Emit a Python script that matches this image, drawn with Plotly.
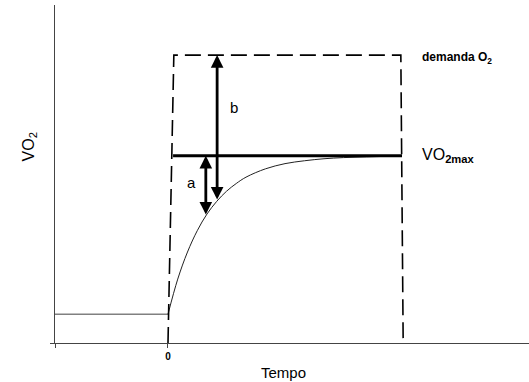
import plotly.graph_objects as go

# ---- data (time in tau units, VO2 in arbitrary units) ----
baseline_t = [-2.9, 0.0]
baseline_vo2 = [10, 10]

curve_t = [0.0, 0.25, 0.5, 0.75, 1.0, 1.25, 1.5, 1.75, 2.0, 2.5, 3.0, 3.5, 4.0, 4.5, 5.0, 5.5]
curve_vo2 = [10, 22.2, 31.6, 39.0, 44.8, 49.2, 52.7, 55.4, 57.6, 60.5, 62.3, 63.3, 64.0, 64.4, 64.6, 64.8]

demand_t = [0.0, 0.15, 5.97, 6.03]
demand_vo2 = [0, 100, 100, 0]

vo2max_t = [0.13, 6.0]
vo2max_vo2 = [65, 65]

arrow_b = dict(t=1.26, top=100, bottom=49.3)
arrow_a = dict(t=0.97, top=65, bottom=44.1)

x_ticks = [-2.897, 0]
x_ticklabels = ["", "<b>0</b>"]

FONT = "Arial, Liberation Sans, sans-serif"
AX = "#444444"

fig = go.Figure()
fig.add_trace(go.Scatter(x=baseline_t, y=baseline_vo2, mode="lines",
                         line=dict(color="#808080", width=1.5), hoverinfo="skip"))
fig.add_trace(go.Scatter(x=curve_t, y=curve_vo2, mode="lines",
                         line=dict(color="#222222", width=1, shape="spline"), hoverinfo="skip"))
fig.add_trace(go.Scatter(x=demand_t, y=demand_vo2, mode="lines",
                         line=dict(color="black", width=1.6, dash="16px,7px"), hoverinfo="skip"))
fig.add_trace(go.Scatter(x=vo2max_t, y=vo2max_vo2, mode="lines",
                         line=dict(color="black", width=3), hoverinfo="skip"))

annotations = []
for arr in (arrow_b, arrow_a):
    annotations.append(dict(x=arr["t"], y=arr["top"], ax=arr["t"], ay=arr["bottom"],
                            xref="x", yref="y", axref="x", ayref="y", text="",
                            showarrow=True, arrowhead=2, arrowside="end+start",
                            arrowsize=0.9, arrowwidth=2.8, arrowcolor="black",
                            standoff=0, startstandoff=0))

annotations += [
    dict(x=1.69, y=81.9, xref="x", yref="y", text="b", showarrow=False,
         font=dict(family=FONT, size=15, color="black")),
    dict(x=0.615, y=55.6, xref="x", yref="y", text="a", showarrow=False,
         font=dict(family=FONT, size=15, color="black")),
    dict(x=6.46, y=99, xref="x", yref="y", text="<b>demanda O<sub>2</sub></b>",
         xanchor="left", showarrow=False, font=dict(family=FONT, size=12, color="black")),
    dict(x=6.46, y=65, xref="x", yref="y", text="VO<sub><b>2max</b></sub>",
         xanchor="left", showarrow=False, font=dict(family=FONT, size=16, color="black")),
    dict(x=-0.078, y=0.58, xref="paper", yref="paper", text="VO<sub>2</sub>",
         textangle=-90, showarrow=False, font=dict(family=FONT, size=16, color="black")),
    dict(x=(283 - 55) / 474, y=-40 / 338, xref="paper", yref="paper", text="Tempo",
         showarrow=False, font=dict(family=FONT, size=15, color="black")),
]

fig.update_layout(
    width=529, height=382,
    margin=dict(l=55, r=0, t=5, b=39),
    paper_bgcolor="white", plot_bgcolor="white",
    showlegend=False,
    annotations=annotations,
    xaxis=dict(range=[-2.897, 9.256], showline=True, linecolor=AX, linewidth=1,
               showgrid=False, zeroline=False, tickvals=x_ticks, ticktext=x_ticklabels,
               ticks="outside", ticklen=4, tickcolor=AX, tickwidth=1,
               tickfont=dict(family=FONT, size=10, color="black")),
    yaxis=dict(range=[0, 117.4], showline=True, linecolor=AX, linewidth=1,
               showgrid=False, zeroline=False, showticklabels=False,
               tickvals=[0], ticks="outside", ticklen=4, tickcolor=AX),
)

fig.write_html("out.html")
